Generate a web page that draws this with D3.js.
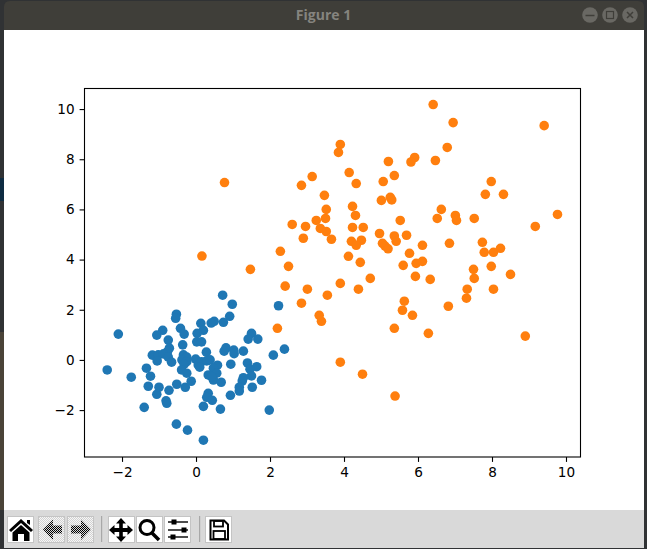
<!DOCTYPE html>
<html>
<head>
<meta charset="utf-8">
<script src="https://cdn.jsdelivr.net/npm/d3@7"></script>
<style>
html,body{margin:0;padding:0;background:#333;overflow:hidden}
svg{display:block}
</style>
</head>
<body>
<svg id="c" width="647" height="549"></svg>
<script>
const blueX=[.72,.98,2.23,.91,.74,.49,.41,.13,.20,.03,-.53,-.55,-.42,-.32,-.90,-1.06,-.75,-2.10,.02,.15,-.36,1.50,1.41,1.67,2.09,2.39,.81,.76,1.02,1.03,1.28,.28,-.72,-.77,-1.18,-1.02,-.88,-1.05,-.75,-.66,-.34,-.25,-.38,-.25,-.32,-.39,-.25,-.01,.06,.15,.29,.38,.58,.47,.56,.33,.47,.68,.94,1.39,1.64,1.46,1.50,1.28,1.25,1.77,1.52,1.17,1.17,.93,.66,.33,.29,.44,.20,-.81,-.79,-1.40,-1.06,-1.0,-1.29,-.73,-.52,-.29,-.13,-1.23,-1.34,-1.75,-2.40,-.53,-.23,.20,1.98,.42,.10];
const blueY=[2.58,2.22,2.16,1.74,1.50,1.54,1.47,1.46,1.18,1.06,1.82,1.66,1.26,1.03,1.18,.99,.79,1.03,.72,.72,.60,1.06,.83,.83,.19,.43,.48,.35,.39,.25,.35,.31,.47,.33,.19,.20,.24,-.04,.11,-.09,.20,.11,0,-.07,-.17,-.40,-.53,.03,-.20,-.07,-.04,0,-.21,-.33,-.53,-.60,-.80,-.89,-.17,-.12,-.27,-.37,-.64,-.71,-.84,-.81,-1.09,-1.09,-1.24,-1.41,-1.96,-1.33,-1.49,-1.61,-1.85,-1.63,-1.73,-1.89,-1.37,-1.09,-1.05,-1.21,-.97,-1.09,-.85,-.65,-.33,-.69,-.40,-2.56,-2.80,-3.20,-2.00,-.67,-.29];
const orangeX=[.77,.16,1.47,3.90,3.85,4.14,4.33,3.14,2.85,3.47,5.20,5.91,5.81,5.36,5.06,5.01,5.25,5.29,4.23,3.52,4.31,3.50,3.25,5.52,2.60,2.96,3.36,3.52,4.23,4.52,2.90,3.66,4.96,5.36,5.69,5.41,4.20,4.47,4.33,5.04,5.11,5.19,2.28,5.77,4.12,4.44,5.60,5.95,2.50,6.12,6.41,6.95,9.41,6.79,6.47,7.98,7.82,8.31,6.63,6.52,7.01,7.04,7.52,9.77,9.17,6.85,7.74,7.79,8.04,8.23,6.12,7.50,7.98,2.41,3.01,3.90,4.71,4.39,3.55,5.93,6.33,7.52,7.33,8.04,8.50,2.85,5.63,5.58,5.85,7.31,6.82,3.33,3.39,2.20,5.36,6.28,8.90,3.90,4.50,5.38];
const orangeY=[7.07,4.14,3.61,8.59,8.27,7.47,7.03,7.31,6.96,6.56,7.91,8.07,7.89,7.35,7.11,6.36,6.48,6.38,6.12,6.00,5.76,5.64,5.56,5.56,5.40,5.32,5.24,5.12,5.28,5.28,4.85,4.81,5.04,4.94,4.97,4.73,4.73,4.77,4.57,4.65,4.54,4.43,4.33,4.25,4.13,3.89,3.77,3.85,3.73,4.57,10.18,9.46,9.34,8.47,7.95,7.11,6.60,6.60,6.00,5.64,5.76,5.56,5.64,5.80,5.32,4.65,4.69,4.29,4.29,4.45,3.93,3.61,3.73,2.94,2.82,3.05,3.25,2.82,2.58,3.33,3.21,3.25,2.82,2.82,3.41,2.26,2.34,1.98,1.78,2.46,2.14,1.78,1.54,1.26,1.26,1.06,.95,-.09,-.57,-1.44];
const xTicks=[-2,0,2,4,6,8,10];
const yTicks=[-2,0,2,4,6,8,10];
const titleText="Figure 1";

const svg=d3.select("#c");
const bg=svg.append("g");
// desktop behind the window
bg.append("rect").attr("width",647).attr("height",549).attr("fill","#303234");
bg.append("rect").attr("x",0).attr("y",178).attr("width",4).attr("height",23).attr("fill","#0e2c42");
bg.append("rect").attr("x",0).attr("y",332).attr("width",4).attr("height",178).attr("fill","#4a4338");
// window
bg.append("path").attr("d","M4,31V7Q4,1 10,1H638Q644,1 644,7V31Z").attr("fill","#3f3e39");
bg.append("rect").attr("x",4).attr("y",30).attr("width",640).attr("height",480).attr("fill","#fff");
bg.append("rect").attr("x",4).attr("y",510).attr("width",640).attr("height",38).attr("fill","#d9d9d9");
bg.append("text").attr("x",323.5).attr("y",20).attr("text-anchor","middle")
  .attr("font-family","'Open Sans','Noto Sans',sans-serif").attr("font-weight",700).attr("font-size",14)
  .attr("fill","#85847f").text(titleText);
[590,610,630].forEach(cx=>bg.append("circle").attr("cx",cx).attr("cy",15).attr("r",7.8).attr("fill","#696863"));
bg.append("path").attr("d","M585.5,15.5H594.5").attr("stroke","#3f3e39").attr("stroke-width",1.5);
bg.append("rect").attr("x",606.5).attr("y",11.5).attr("width",7).attr("height",7).attr("fill","none").attr("stroke","#3f3e39").attr("stroke-width",1.2);
bg.append("path").attr("d","M627,12L633,18M633,12L627,18").attr("stroke","#3f3e39").attr("stroke-width",1.5);

// plot
const x=d3.scaleLinear().domain([-3.014,10.392]).range([84.5,580.5]);
const y=d3.scaleLinear().domain([-3.87,10.84]).range([457,88]);
const plot=svg.append("g");
const dot=(xs,ys,col)=>plot.append("g").selectAll("circle").data(xs.map((v,i)=>[v,ys[i]])).join("circle")
  .attr("cx",d=>x(d[0])).attr("cy",d=>y(d[1])).attr("r",4.8).attr("fill",col);
dot(blueX,blueY,"#1f77b4");
dot(orangeX,orangeY,"#ff7f0e");
plot.append("rect").attr("x",84.5).attr("y",88.5).attr("width",496).attr("height",368.5)
  .attr("fill","none").attr("stroke","#000").attr("stroke-width",1.1);
const styleAxis=g=>{g.select(".domain").remove();
  g.selectAll(".tick line").attr("stroke","#000").attr("stroke-width",1.1);
  g.selectAll("text").attr("font-family","'DejaVu Sans'").attr("font-size",13.6).attr("fill","#000");};
plot.append("g").attr("transform","translate(0,457)")
  .call(d3.axisBottom(x).tickValues(xTicks).tickSize(4.9).tickPadding(5).tickFormat(d=>String(d).replace("-","\u2212"))).call(styleAxis);
plot.append("g").attr("transform","translate(84.5,0)")
  .call(d3.axisLeft(y).tickValues(yTicks).tickSize(4.9).tickPadding(5).tickFormat(d=>String(d).replace("-","\u2212"))).call(styleAxis);

// toolbar
const tb=svg.append("g");
const defs=svg.append("defs");
const pat=defs.append("pattern").attr("id","dith").attr("width",2).attr("height",2).attr("patternUnits","userSpaceOnUse");
pat.append("rect").attr("width",2).attr("height",2).attr("fill","#d8d8d8");
pat.append("rect").attr("width",1).attr("height",1).attr("fill","#000");
pat.append("rect").attr("x",1).attr("y",1).attr("width",1).attr("height",1).attr("fill","#000");
const pat2=defs.append("pattern").attr("id","btn").attr("width",2).attr("height",2).attr("patternUnits","userSpaceOnUse");
pat2.append("rect").attr("width",2).attr("height",2).attr("fill","#f6f6f6");
pat2.append("rect").attr("width",1).attr("height",1).attr("fill","#d2d2d2");
pat2.append("rect").attr("x",1).attr("y",1).attr("width",1).attr("height",1).attr("fill","#d2d2d2");
const button=(bx,w,dis)=>{
  tb.append("rect").attr("x",bx+.5).attr("y",516.5).attr("width",w).attr("height",26)
    .attr("fill",dis?"url(#btn)":"#fff").attr("stroke","#c4c4c4").attr("stroke-width",1);
};
[[7,26,0],[38,26,1],[67,26,1],[108,26,0],[136,26,0],[164,26,0],[205,26,0]].forEach(b=>button(...b));
[101,199].forEach(sx=>tb.append("rect").attr("x",sx).attr("y",516).attr("width",1.2).attr("height",26).attr("fill","#a8a8a8"));
// home
tb.append("path").attr("d","M21,519L33,530L31,532L21,523L11,532L9,530ZM12.5,532.5L21,525L29.5,532.5V541H24V534H18V541H12.5ZM27,520H30V525L27,523Z").attr("fill","#000");
// back / forward
tb.append("path").attr("d","M43,529.5L53,519.5V525.5H62V533.5H53V540Z").attr("fill","url(#dith)");
tb.append("path").attr("d","M91,529.5L81,519.5V525.5H71V533.5H81V540Z").attr("fill","url(#dith)");
// move
tb.append("path").attr("d","M121,518L126,523.5H122.8V528H127.5V525L133,530L127.5,535V532H122.8V536.5H126L121,542L116,536.5H119.2V532H114.5V535L109,530L114.5,525V528H119.2V523.5H116Z").attr("fill","#000");
// zoom
tb.append("circle").attr("cx",147).attr("cy",527.5).attr("r",7).attr("fill","none").attr("stroke","#000").attr("stroke-width",3);
tb.append("path").attr("d","M152,533L159,540").attr("stroke","#000").attr("stroke-width",3.6);
// config
[[522,174],[530,184],[537,173]].forEach(([ly,kx])=>{
  tb.append("path").attr("d",`M168,${ly}H188`).attr("stroke","#000").attr("stroke-width",1.4);
  tb.append("rect").attr("x",kx-2.5).attr("y",ly-2.5).attr("width",5).attr("height",5).attr("fill","#000");
});
// save
tb.append("path").attr("d","M210.5,520.5H224L228,524.5V539.5H210.5Z").attr("fill","none").attr("stroke","#000").attr("stroke-width",2);
tb.append("rect").attr("x",214).attr("y",521).attr("width",9).attr("height",5.5).attr("fill","none").attr("stroke","#000").attr("stroke-width",1.8);
tb.append("rect").attr("x",213.5).attr("y",531).attr("width",11.5).attr("height",8).attr("fill","none").attr("stroke","#000").attr("stroke-width",1.8);
</script>
</body>
</html>
